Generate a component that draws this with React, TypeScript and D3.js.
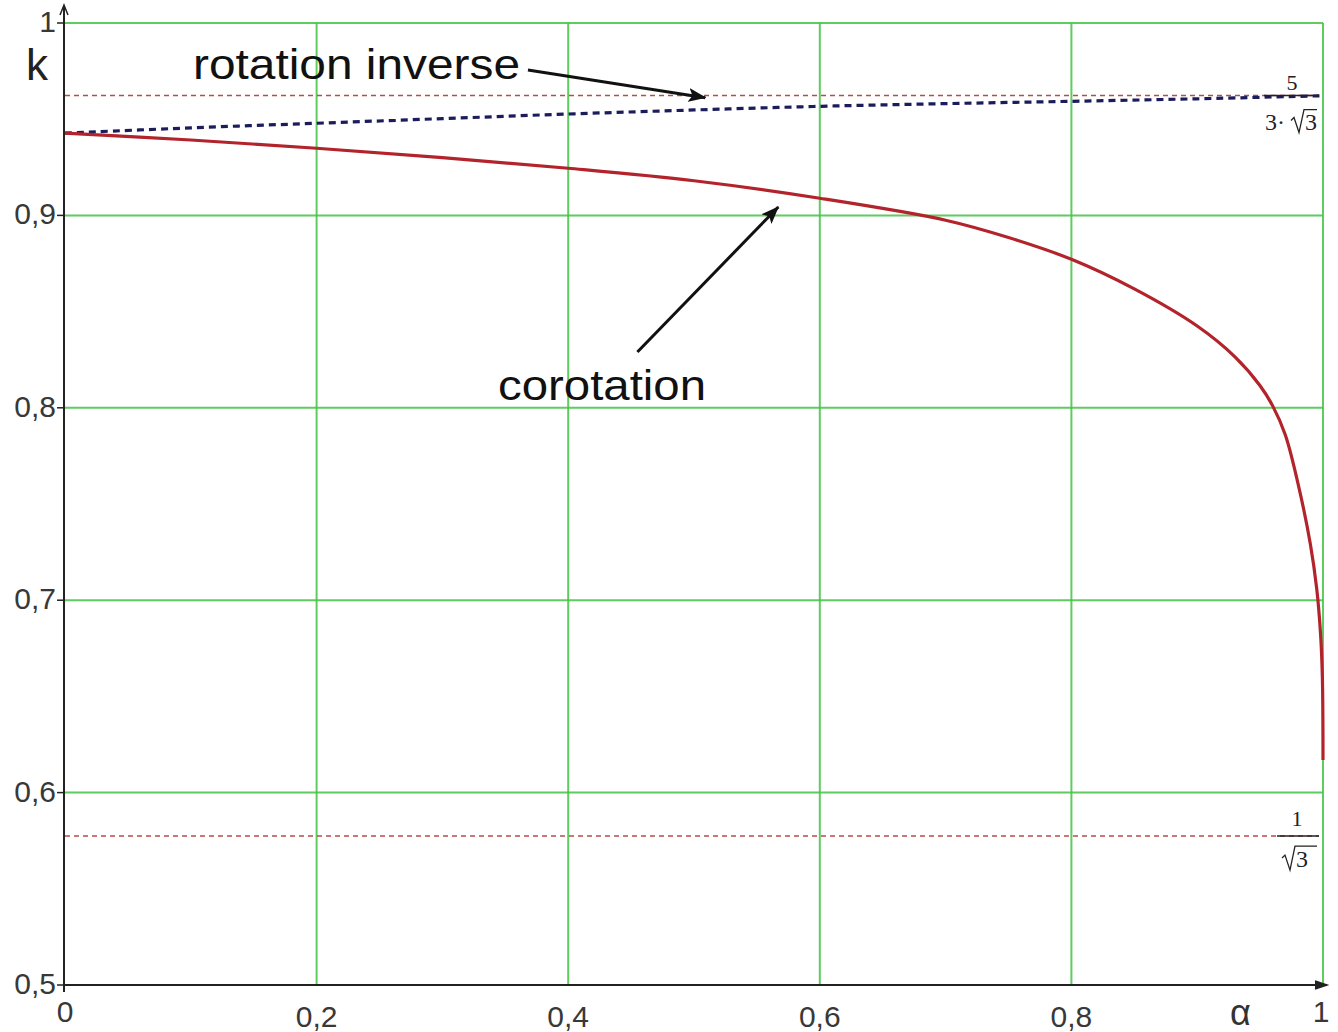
import React from "react";
import * as d3 from "d3";

// corotation curve
const alphaCo = [0, 0.1, 0.2, 0.3, 0.4, 0.5, 0.6, 0.7, 0.75, 0.8, 0.85, 0.9, 0.93, 0.95, 0.96, 0.97, 0.98, 0.99, 0.995, 0.998, 0.9995, 1];
const kCo = [0.9428, 0.9392, 0.9349, 0.93, 0.9245, 0.918, 0.9089, 0.8975, 0.8885, 0.8772, 0.8618, 0.8425, 0.8265, 0.8115, 0.801, 0.786, 0.761, 0.729, 0.706, 0.683, 0.66, 0.617];

// rotation inverse curve
const alphaRi = [0, 0.1, 0.2, 0.3, 0.4, 0.5, 0.6, 0.7, 0.8, 0.9, 1];
const kRi = [0.9428, 0.9455, 0.9479, 0.9503, 0.9527, 0.9548, 0.9567, 0.9581, 0.9593, 0.9606, 0.9622];

// limits 5/(3√3) and 1/√3
const refK = [0.9623, 0.5774];

const xTicks = [0, 0.2, 0.4, 0.6, 0.8, 1];
const xTickLabels = ["0", "0,2", "0,4", "0,6", "0,8", "1"];
const yTicks = [0.5, 0.6, 0.7, 0.8, 0.9, 1];
const yTickLabels = ["0,5", "0,6", "0,7", "0,8", "0,9", "1"];

const W = 1338;
const H = 1032;

export default function App() {
  const x = d3.scaleLinear().domain([0, 1]).range([65, 1323]);
  const y = d3.scaleLinear().domain([0.5, 1]).range([985, 23]);

  const line = d3
    .line<[number, number]>()
    .x((d) => x(d[0]))
    .y((d) => y(d[1]))
    .curve(d3.curveCatmullRom.alpha(0.5));

  const coPts = alphaCo.map((a, i) => [a, kCo[i]] as [number, number]);
  const riPts = alphaRi.map((a, i) => [a, kRi[i]] as [number, number]);

  const font = "'Liberation Sans', Arial, sans-serif";
  const serif = "'Liberation Serif', 'Times New Roman', serif";
  const green = "#44c444";

  // fraction positions
  const fx = x(1) - 4;
  const yTop = y(refK[0]);
  const yBot = y(refK[1]);

  return (
    <svg
      width={W}
      height={H}
      style={{ position: "absolute", left: 0, top: 0, background: "#fff" }}
    >
      <defs>
        <marker id="head" viewBox="0 0 18 14" refX="17" refY="7" markerWidth="18" markerHeight="14" markerUnits="userSpaceOnUse" orient="auto">
          <path d="M0,0 L18,7 L0,14 L4,7 Z" fill="#111" />
        </marker>
      </defs>

      {/* grid */}
      {xTicks.filter((t) => t > 0).map((t) => (
        <line key={"gx" + t} x1={x(t)} x2={x(t)} y1={y(1)} y2={y(0.5)} stroke={green} strokeWidth={2} opacity={0.85} />
      ))}
      {yTicks.filter((t) => t > 0.5).map((t) => (
        <line key={"gy" + t} x1={x(0)} x2={x(1)} y1={y(t)} y2={y(t)} stroke={green} strokeWidth={2} opacity={0.85} />
      ))}

      {/* reference dashed lines */}
      {refK.map((k) => (
        <line key={"r" + k} x1={x(0)} x2={x(1) - 4} y1={y(k)} y2={y(k)} stroke="#b84c4c" strokeWidth={1.5} strokeDasharray="5 4" />
      ))}

      {/* curves */}
      <path d={line(riPts) || ""} fill="none" stroke="#1c1c5c" strokeWidth={3.2} strokeDasharray="7 5" />
      <path d={line(coPts) || ""} fill="none" stroke="#b3232b" strokeWidth={3.2} />

      {/* axes */}
      <line x1={x(0) - 1} x2={x(0) - 1} y1={y(0.5) + 7} y2={6} stroke="#222" strokeWidth={2} />
      <path d={`M${x(0) - 5},${15} L${x(0) - 1},${5} L${x(0) + 3},${15}`} fill="none" stroke="#222" strokeWidth={1.5} />
      <line x1={x(0) - 1} x2={x(1) + 4} y1={y(0.5)} y2={y(0.5)} stroke="#222" strokeWidth={2} />
      <path d={`M${x(1) - 8},${y(0.5) - 4} L${x(1) + 4},${y(0.5)} L${x(1) - 8},${y(0.5) + 4}`} fill="#222" stroke="#222" strokeWidth={1.5} />

      {yTicks.map((t, i) => (
        <g key={"yt" + t}>
          <line x1={x(0) - 8} x2={x(0) - 1} y1={y(t)} y2={y(t)} stroke="#222" strokeWidth={1.5} />
          <text x={x(0) - 9} y={y(t) + 9} textAnchor="end" fontFamily={font} fontSize={30} fill="#383838">
            {yTickLabels[i]}
          </text>
        </g>
      ))}
      {xTicks.map((t, i) => (
        <text
          key={"xt" + t}
          x={x(t) + (i === 5 ? -2 : 0)}
          y={i === 0 || i === 5 ? 1022 : 1027}
          textAnchor="middle"
          fontFamily={font}
          fontSize={30}
          fill="#383838"
        >
          {xTickLabels[i]}
        </text>
      ))}

      {/* axis titles */}
      <text x={26} y={80} fontFamily={font} fontSize={44} fill="#222">k</text>
      <text x={1230} y={1025} fontFamily={font} fontSize={36} fill="#333">α</text>

      {/* annotations */}
      <text x={193} y={79} fontFamily={font} fontSize={42} fill="#111" textLength={327} lengthAdjust="spacingAndGlyphs">
        rotation inverse
      </text>
      <line x1={x(0.368)} y1={y(0.9756)} x2={x(0.509)} y2={y(0.9612)} stroke="#111" strokeWidth={3} markerEnd="url(#head)" />

      <text x={498} y={400} fontFamily={font} fontSize={42} fill="#111" textLength={208} lengthAdjust="spacingAndGlyphs">
        corotation
      </text>
      <line x1={x(0.455)} y1={y(0.829)} x2={x(0.567)} y2={y(0.9044)} stroke="#111" strokeWidth={3} markerEnd="url(#head)" />

      {/* 5 / (3·√3) */}
      <text x={fx - 27} y={yTop - 6} textAnchor="middle" fontFamily={serif} fontSize={22} fill="#222">5</text>
      <line x1={fx - 55} x2={fx} y1={yTop} y2={yTop} stroke="#222" strokeWidth={1.5} />
      <text x={fx - 54} y={yTop + 34} fontFamily={serif} fontSize={24} fill="#222">3·</text>
      <path d={`M${fx - 28},${yTop + 25} L${fx - 25},${yTop + 22} L${fx - 20},${yTop + 37} L${fx - 15},${yTop + 14} L${fx - 2},${yTop + 14}`} fill="none" stroke="#222" strokeWidth={1.3} />
      <text x={fx - 14} y={yTop + 34} fontFamily={serif} fontSize={24} fill="#222">3</text>

      {/* 1 / √3 */}
      <text x={fx - 22} y={yBot - 10} textAnchor="middle" fontFamily={serif} fontSize={22} fill="#222">1</text>
      <line x1={fx - 42} x2={fx} y1={yBot} y2={yBot} stroke="#222" strokeWidth={1.5} />
      <path d={`M${fx - 37},${yBot + 22} L${fx - 34},${yBot + 19} L${fx - 29},${yBot + 34} L${fx - 24},${yBot + 10} L${fx - 2},${yBot + 10}`} fill="none" stroke="#222" strokeWidth={1.3} />
      <text x={fx - 23} y={yBot + 31} fontFamily={serif} fontSize={24} fill="#222">3</text>
    </svg>
  );
}
